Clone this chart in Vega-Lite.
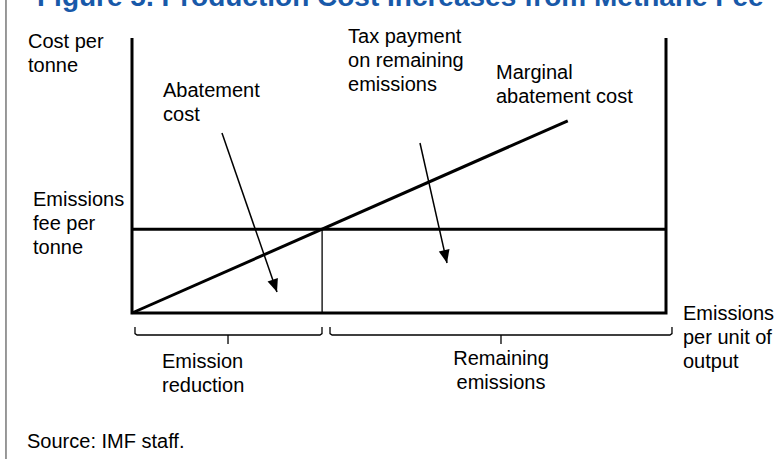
{
  "$schema": "https://vega.github.io/schema/vega-lite/v6.json",
  "width": 534,
  "height": 275,
  "autosize": {"type": "none"},
  "padding": {"left": 132, "top": 38, "right": 110, "bottom": 146},
  "background": "white",
  "config": {"view": {"stroke": null}, "font": "Liberation Sans"},
  "datasets": {
    "border": [{"e": -23.6, "c": 113.82, "c2": -53.09}],
    "thick": [
      {"seg": "axes", "ord": 1, "e": 0, "c": 100},
      {"seg": "axes", "ord": 2, "e": 0, "c": 0},
      {"seg": "axes", "ord": 3, "e": 100, "c": 0},
      {"seg": "axes", "ord": 4, "e": 100, "c": 100},
      {"seg": "fee", "ord": 1, "e": 0, "c": 30.5},
      {"seg": "fee", "ord": 2, "e": 100, "c": 30.5},
      {"seg": "mac", "ord": 1, "e": 0, "c": 0},
      {"seg": "mac", "ord": 2, "e": 81.6, "c": 69.9}
    ],
    "thin": [
      {"seg": "drop", "ord": 1, "e": 35.6, "c": 0},
      {"seg": "drop", "ord": 2, "e": 35.6, "c": 30.5},
      {"seg": "lb", "ord": 1, "e": 0.56, "c": -5.09},
      {"seg": "lb", "ord": 2, "e": 0.56, "c": -7.5},
      {"seg": "lb", "ord": 3, "e": 0.95, "c": -8.0},
      {"seg": "lb", "ord": 4, "e": 35.2, "c": -8.0},
      {"seg": "lb", "ord": 5, "e": 35.58, "c": -7.5},
      {"seg": "lb", "ord": 6, "e": 35.58, "c": -5.09},
      {"seg": "lt", "ord": 1, "e": 17.98, "c": -8.0},
      {"seg": "lt", "ord": 2, "e": 17.98, "c": -11.3},
      {"seg": "rb", "ord": 1, "e": 37.08, "c": -5.09},
      {"seg": "rb", "ord": 2, "e": 37.08, "c": -7.5},
      {"seg": "rb", "ord": 3, "e": 37.47, "c": -8.0},
      {"seg": "rb", "ord": 4, "e": 100.73, "c": -8.0},
      {"seg": "rb", "ord": 5, "e": 101.12, "c": -7.5},
      {"seg": "rb", "ord": 6, "e": 101.12, "c": -5.09},
      {"seg": "rt", "ord": 1, "e": 69.1, "c": -8.0},
      {"seg": "rt", "ord": 2, "e": 69.1, "c": -11.3}
    ],
    "arrows": [
      {"name": "abatement", "e": 16.85, "c": 65.45, "e2": 27.15, "c2": 7.64},
      {"name": "tax", "e": 53.93, "c": 61.82, "e2": 58.99, "c2": 18.18}
    ],
    "headA": [{"e": 27.15, "c": 7.64}],
    "headT": [{"e": 58.99, "c": 18.18}],
    "labels": [
      {"t": "Cost per\ntonne", "e": -19.48, "c": 96.36},
      {"t": "Abatement\ncost", "e": 5.81, "c": 78.55},
      {"t": "Tax payment\non remaining\nemissions", "e": 40.45, "c": 98.18},
      {"t": "Marginal\nabatement cost", "e": 68.16, "c": 85.09},
      {"t": "Emissions\nfee per\ntonne", "e": -18.54, "c": 38.91},
      {"t": "Emissions\nper unit of\noutput", "e": 103.18, "c": -2.55},
      {"t": "Emission\nreduction", "e": 5.62, "c": -20.0},
      {"t": "Source: IMF staff.", "e": -19.66, "c": -49.09}
    ],
    "labelsCenter": [
      {"t": "Remaining\nemissions", "e": 69.1, "c": -18.91}
    ],
    "title": [
      {"t": "Figure 5. Production Cost Increases from Methane Fee", "e": -17.79, "c": 111.64}
    ]
  },
  "layer": [
    {
      "data": {"name": "border"},
      "mark": {"type": "rule", "color": "#555555", "strokeWidth": 1.2, "clip": false},
      "encoding": {
        "x": {"field": "e", "type": "quantitative", "scale": {"domain": [0, 100], "nice": false, "zero": false}, "axis": null},
        "y": {"field": "c", "type": "quantitative", "scale": {"domain": [0, 100], "nice": false, "zero": false}, "axis": null},
        "y2": {"field": "c2"}
      }
    },
    {
      "data": {"name": "thick"},
      "mark": {"type": "line", "color": "black", "strokeWidth": 3, "strokeJoin": "miter", "clip": false},
      "encoding": {
        "x": {"field": "e", "type": "quantitative"},
        "y": {"field": "c", "type": "quantitative"},
        "detail": {"field": "seg"},
        "order": {"field": "ord"}
      }
    },
    {
      "data": {"name": "thin"},
      "mark": {"type": "line", "color": "black", "strokeWidth": 1.3, "clip": false},
      "encoding": {
        "x": {"field": "e", "type": "quantitative"},
        "y": {"field": "c", "type": "quantitative"},
        "detail": {"field": "seg"},
        "order": {"field": "ord"}
      }
    },
    {
      "data": {"name": "arrows"},
      "mark": {"type": "rule", "color": "black", "strokeWidth": 1.5, "clip": false},
      "encoding": {
        "x": {"field": "e", "type": "quantitative"},
        "y": {"field": "c", "type": "quantitative"},
        "x2": {"field": "e2"},
        "y2": {"field": "c2"}
      }
    },
    {
      "data": {"name": "headA"},
      "mark": {"type": "point", "shape": "M0,0L-0.84,-2L0.84,-2Z", "size": 169, "filled": true, "opacity": 1, "color": "black", "angle": 340.9, "clip": false},
      "encoding": {
        "x": {"field": "e", "type": "quantitative"},
        "y": {"field": "c", "type": "quantitative"}
      }
    },
    {
      "data": {"name": "headT"},
      "mark": {"type": "point", "shape": "M0,0L-0.84,-2L0.84,-2Z", "size": 169, "filled": true, "opacity": 1, "color": "black", "angle": 347.3, "clip": false},
      "encoding": {
        "x": {"field": "e", "type": "quantitative"},
        "y": {"field": "c", "type": "quantitative"}
      }
    },
    {
      "data": {"name": "labels"},
      "mark": {"type": "text", "align": "left", "baseline": "alphabetic", "fontSize": 20, "lineHeight": 24, "lineBreak": "\n", "color": "black", "font": "Liberation Sans", "clip": false},
      "encoding": {
        "x": {"field": "e", "type": "quantitative"},
        "y": {"field": "c", "type": "quantitative"},
        "text": {"field": "t"}
      }
    },
    {
      "data": {"name": "labelsCenter"},
      "mark": {"type": "text", "align": "center", "baseline": "alphabetic", "fontSize": 20, "lineHeight": 24, "lineBreak": "\n", "color": "black", "font": "Liberation Sans", "clip": false},
      "encoding": {
        "x": {"field": "e", "type": "quantitative"},
        "y": {"field": "c", "type": "quantitative"},
        "text": {"field": "t"}
      }
    },
    {
      "data": {"name": "title"},
      "mark": {"type": "text", "align": "left", "baseline": "alphabetic", "fontSize": 28, "fontWeight": "bold", "color": "#1859a9", "font": "Liberation Sans", "clip": false},
      "encoding": {
        "x": {"field": "e", "type": "quantitative"},
        "y": {"field": "c", "type": "quantitative"},
        "text": {"field": "t"}
      }
    }
  ]
}
